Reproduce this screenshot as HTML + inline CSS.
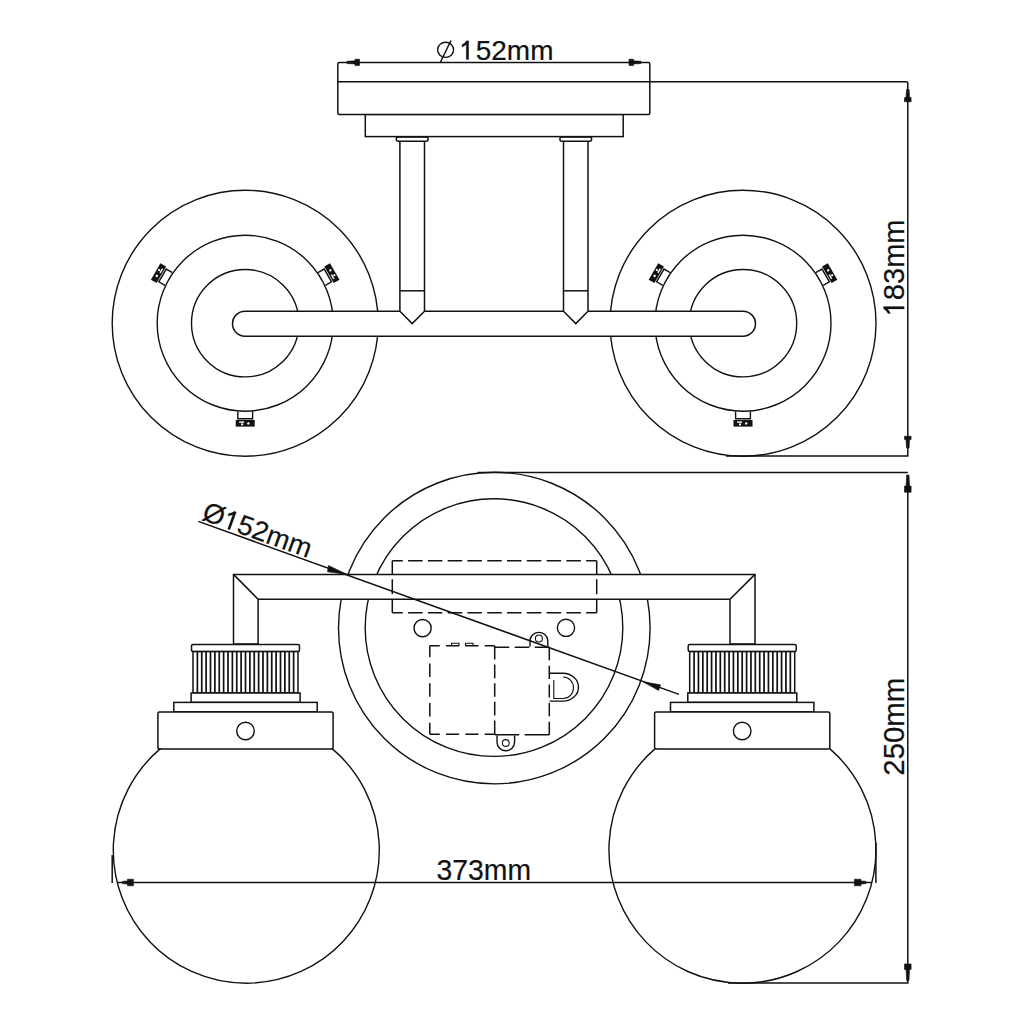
<!DOCTYPE html>
<html><head><meta charset="utf-8"><style>
html,body{margin:0;padding:0;background:#fff;}
svg{display:block;}
text{font-family:"Liberation Sans",sans-serif;fill:#111;stroke:#111;stroke-width:0.2;}
.s{fill:none;stroke:#111;stroke-width:1.5;}
.t{fill:none;stroke:#111;stroke-width:1.4;}
.t2{fill:none;stroke:#111;stroke-width:1.1;}
.w{fill:#fff;stroke:#111;stroke-width:1.5;}
.r{fill:none;stroke:#111;stroke-width:1.7;}
.g{fill:#111;stroke:#111;stroke-width:0.2;vector-effect:non-scaling-stroke;}
.ar{fill:#111;stroke:#111;stroke-width:0.6;stroke-linejoin:round;}
</style></head><body>
<svg width="1024" height="1024" viewBox="0 0 1024 1024">
<circle cx="245.2" cy="323.2" r="133" class="t"/>
<circle cx="245.2" cy="323.2" r="88" class="t"/>
<circle cx="245.2" cy="323.2" r="53.7" class="t"/>
<g transform="translate(245.2 323.2) rotate(0)"><path d="M-7.4 88.3V95.5H7.4V88.3" class="t"/><rect x="-9.5" y="96.8" width="19" height="6.6" fill="#111"/><rect x="-6" y="98.2" width="5" height="1.4" fill="#fff"/><circle cx="-3" cy="101.2" r="1.1" fill="#fff"/><circle cx="3.2" cy="100.2" r="1.2" fill="#fff"/></g>
<g transform="translate(245.2 323.2) rotate(120)"><path d="M-7.4 88.3V95.5H7.4V88.3" class="t"/><rect x="-9.5" y="96.8" width="19" height="6.6" fill="#111"/><rect x="-6" y="98.2" width="5" height="1.4" fill="#fff"/><circle cx="-3" cy="101.2" r="1.1" fill="#fff"/><circle cx="3.2" cy="100.2" r="1.2" fill="#fff"/></g>
<g transform="translate(245.2 323.2) rotate(240)"><path d="M-7.4 88.3V95.5H7.4V88.3" class="t"/><rect x="-9.5" y="96.8" width="19" height="6.6" fill="#111"/><rect x="-6" y="98.2" width="5" height="1.4" fill="#fff"/><circle cx="-3" cy="101.2" r="1.1" fill="#fff"/><circle cx="3.2" cy="100.2" r="1.2" fill="#fff"/></g>
<circle cx="743.0" cy="323.2" r="133" class="t"/>
<circle cx="743.0" cy="323.2" r="88" class="t"/>
<circle cx="743.0" cy="323.2" r="53.7" class="t"/>
<g transform="translate(743.0 323.2) rotate(0)"><path d="M-7.4 88.3V95.5H7.4V88.3" class="t"/><rect x="-9.5" y="96.8" width="19" height="6.6" fill="#111"/><rect x="-6" y="98.2" width="5" height="1.4" fill="#fff"/><circle cx="-3" cy="101.2" r="1.1" fill="#fff"/><circle cx="3.2" cy="100.2" r="1.2" fill="#fff"/></g>
<g transform="translate(743.0 323.2) rotate(120)"><path d="M-7.4 88.3V95.5H7.4V88.3" class="t"/><rect x="-9.5" y="96.8" width="19" height="6.6" fill="#111"/><rect x="-6" y="98.2" width="5" height="1.4" fill="#fff"/><circle cx="-3" cy="101.2" r="1.1" fill="#fff"/><circle cx="3.2" cy="100.2" r="1.2" fill="#fff"/></g>
<g transform="translate(743.0 323.2) rotate(240)"><path d="M-7.4 88.3V95.5H7.4V88.3" class="t"/><rect x="-9.5" y="96.8" width="19" height="6.6" fill="#111"/><rect x="-6" y="98.2" width="5" height="1.4" fill="#fff"/><circle cx="-3" cy="101.2" r="1.1" fill="#fff"/><circle cx="3.2" cy="100.2" r="1.2" fill="#fff"/></g>
<rect x="232.5" y="311.2" width="523" height="25" rx="12.5" class="w"/>
<path d="M399.9 141V311.2L412.2 323.6L424.5 311.2V141" class="w"/>
<path d="M399.9 290.8H424.5" class="s"/>
<rect x="396.29999999999995" y="137" width="31.800000000000022" height="4.3" rx="2" class="w"/>
<path d="M563.5 141V311.2L575.75 323.6L588.0 311.2V141" class="w"/>
<path d="M563.5 290.8H588.0" class="s"/>
<rect x="559.9" y="137" width="31.7" height="4.3" rx="2" class="w"/>
<rect x="365.3" y="114.4" width="257.9" height="22.2" class="w"/>
<rect x="337.8" y="62.4" width="312" height="52" rx="1.5" class="w"/>
<path d="M337.8 81.7H906.2A1.6 1.6 0 0 1 907.8 83.3V456H725.8" class="s"/>
<path d="M347.00 61.28L355.00 60.80L355.00 59.20L359.50 59.20L359.50 65.60L355.00 65.60L355.00 64.00L347.00 63.52Z" class="ar"/>
<path d="M641.00 63.52L633.50 64.00L633.50 65.60L629.00 65.60L629.00 59.20L633.50 59.20L633.50 60.80L641.00 61.28Z" class="ar"/>
<ellipse cx="445.6" cy="49.8" rx="8" ry="7.6" class="t"/>
<path d="M440.5 62L451 40.5" class="s"/>
<text x="460.2" y="59.8" font-size="27.5" textLength="93.3" lengthAdjust="spacingAndGlyphs"><tspan fill="transparent" stroke="none">1</tspan>52mm</text>
<path transform="translate(459.2 59.6) scale(27.9844 27.5)" d="M0.34 0V-0.688H0.262Q0.2 -0.59 0.096 -0.54V-0.457Q0.19 -0.49 0.2515 -0.553V0Z" class="g"/>
<path d="M909.06 89.40L909.60 97.60L911.10 97.60L911.10 101.80L904.50 101.80L904.50 97.60L906.00 97.60L906.54 89.40Z" class="ar"/>
<path d="M906.54 448.10L906.00 439.60L904.50 439.60L904.50 436.20L911.10 436.20L911.10 439.60L909.60 439.60L909.06 448.10Z" class="ar"/>
<g transform="translate(904.2 316.3) rotate(-90)"><text font-size="30" textLength="96.8" lengthAdjust="spacingAndGlyphs"><tspan fill="transparent" stroke="none">1</tspan>83mm</text><path transform="scale(29.0342 30)" d="M0.34 0V-0.688H0.262Q0.2 -0.59 0.096 -0.54V-0.457Q0.19 -0.49 0.2515 -0.553V0Z" class="g"/></g>
<circle cx="494.3" cy="628.1" r="155.8" class="t"/>
<circle cx="494" cy="627.6" r="128.8" class="t"/>
<path d="M477.5 472.6H907.8" class="s"/>
<path d="M907.8 475.1V983.1H728" class="s"/>
<path d="M908.99 475.10L909.50 486.00L911.10 486.00L911.10 492.20L904.50 492.20L904.50 486.00L906.10 486.00L906.61 475.10Z" class="ar"/>
<path d="M906.61 980.50L906.10 969.50L904.50 969.50L904.50 963.90L911.10 963.90L911.10 969.50L909.50 969.50L908.99 980.50Z" class="ar"/>
<path d="M233.5 644V574.4H755V644H730V599.2H258.1V644Z" class="w"/>
<path d="M233.5 574.4L258.1 599.2M755 574.4L730 599.2" class="s"/>
<path d="M392.30 560.70L402.80 560.70M408.10 560.70L422.59 560.70M427.89 560.70L442.38 560.70M447.68 560.70L462.17 560.70M467.47 560.70L481.96 560.70M487.26 560.70L501.74 560.70M507.04 560.70L521.53 560.70M526.83 560.70L541.32 560.70M546.62 560.70L561.11 560.70M566.41 560.70L580.90 560.70M586.20 560.70L596.70 560.70M596.70 560.70L596.70 574.00M596.70 579.30L596.70 594.20M596.70 599.50L596.70 612.80M596.70 612.80L586.20 612.80M580.90 612.80L566.41 612.80M561.11 612.80L546.62 612.80M541.32 612.80L526.83 612.80M521.53 612.80L507.04 612.80M501.74 612.80L487.26 612.80M481.96 612.80L467.47 612.80M462.17 612.80L447.68 612.80M442.38 612.80L427.89 612.80M422.59 612.80L408.10 612.80M402.80 612.80L392.30 612.80M392.30 612.80L392.30 599.50M392.30 594.20L392.30 579.30M392.30 574.00L392.30 560.70" class="s"/>
<circle cx="422.6" cy="628.1" r="8.6" class="t"/>
<circle cx="566" cy="627.8" r="8.6" class="t"/>
<path d="M494.70 645.80L484.70 645.80M478.50 645.80L465.35 645.80M459.15 645.80L446.00 645.80M439.80 645.80L429.80 645.80M429.80 645.80L429.80 657.30M429.80 663.50L429.80 677.03M429.80 683.23L429.80 696.77M429.80 702.97L429.80 716.50M429.80 722.70L429.80 734.20M429.80 734.20L439.80 734.20M446.00 734.20L459.15 734.20M465.35 734.20L478.50 734.20M484.70 734.20L494.70 734.20" class="s"/>
<path d="M451.5 645.8v-2.6h7.5v2.6M465.5 645.8v-2.6h7.5v2.6" class="t2"/>
<path d="M494.70 645.80L494.70 659.48M494.70 664.48L494.70 678.16M494.70 683.16L494.70 696.84M494.70 701.84L494.70 715.52M494.70 720.52L494.70 734.20" class="s"/>
<path d="M494.70 647.20L509.23 647.20M514.73 647.20L529.27 647.20M534.77 647.20L549.30 647.20M549.30 647.20L549.30 660.32M549.30 665.82L549.30 678.94M549.30 684.44L549.30 697.56M549.30 703.06L549.30 716.18M549.30 721.68L549.30 734.80M549.30 734.80L524.75 734.80M519.25 734.80L494.70 734.80" class="s"/>
<path d="M530 646.5V640A9 9 0 0 1 547.8 640V646.5" class="t"/>
<circle cx="538.9" cy="638.5" r="3.5" class="t2"/>
<path d="M497 735.4V742A8.8 8.8 0 0 0 514.6 742V735.4" class="t"/>
<circle cx="505.8" cy="743" r="3.4" class="t2"/>
<path d="M549.5 673.2H563A15.5 13.95 0 0 1 563 701.1H549.5" class="t"/>
<path d="M553.8 680V698.5H563A10.5 10.75 0 0 0 563 677" class="t2"/>
<rect x="191.5" y="644.4" width="108" height="7.2" rx="1.5" class="w"/>
<rect x="193.0" y="651.6" width="105" height="41.4" class="w"/>
<path d="M197.38 651.6V693M201.75 651.6V693M206.12 651.6V693M210.50 651.6V693M214.88 651.6V693M219.25 651.6V693M223.62 651.6V693M228.00 651.6V693M232.38 651.6V693M236.75 651.6V693M241.12 651.6V693M245.50 651.6V693M249.88 651.6V693M254.25 651.6V693M258.62 651.6V693M263.00 651.6V693M267.38 651.6V693M271.75 651.6V693M276.12 651.6V693M280.50 651.6V693M284.88 651.6V693M289.25 651.6V693M293.62 651.6V693" class="r"/>
<rect x="191.1" y="693" width="109" height="9.4" class="w"/>
<rect x="173.8" y="702.4" width="143.4" height="9.5" class="w"/>
<rect x="157.9" y="711.9" width="175.2" height="37" rx="1.5" class="w"/>
<circle cx="245.5" cy="731" r="8.8" class="t"/>
<path d="M157.90 748.9L160.12 748.9A133.0 133.0 0 1 0 332.48 748.9L333.10 748.9" class="t"/>
<rect x="688.2" y="644.4" width="108" height="7.2" rx="1.5" class="w"/>
<rect x="689.7" y="651.6" width="105" height="41.4" class="w"/>
<path d="M694.08 651.6V693M698.45 651.6V693M702.83 651.6V693M707.20 651.6V693M711.58 651.6V693M715.95 651.6V693M720.33 651.6V693M724.70 651.6V693M729.08 651.6V693M733.45 651.6V693M737.83 651.6V693M742.20 651.6V693M746.58 651.6V693M750.95 651.6V693M755.33 651.6V693M759.70 651.6V693M764.08 651.6V693M768.45 651.6V693M772.83 651.6V693M777.20 651.6V693M781.58 651.6V693M785.95 651.6V693M790.33 651.6V693" class="r"/>
<rect x="687.8000000000001" y="693" width="109" height="9.4" class="w"/>
<rect x="670.5" y="702.4" width="143.4" height="9.5" class="w"/>
<rect x="654.6" y="711.9" width="175.2" height="37" rx="1.5" class="w"/>
<circle cx="742.2" cy="731" r="8.8" class="t"/>
<path d="M654.60 748.9L654.92 748.9A133.5 133.5 0 1 0 829.98 748.9L829.80 748.9" class="t"/>
<path d="M117 882.5H871.8" class="s"/>
<path d="M112.2 855V882.9M875.9 843V882.9" class="s"/>
<path d="M122.50 881.38L127.50 880.90L127.50 879.20L133.40 879.20L133.40 885.80L127.50 885.80L127.50 884.10L122.50 883.62Z" class="ar"/>
<path d="M866.00 883.62L860.90 884.10L860.90 885.80L854.40 885.80L854.40 879.20L860.90 879.20L860.90 880.90L866.00 881.38Z" class="ar"/>
<text x="436.5" y="879.9" font-size="29.5" textLength="94.5" lengthAdjust="spacingAndGlyphs">373mm</text>
<text transform="translate(904.2 775.7) rotate(-90)" font-size="30" textLength="98.0" lengthAdjust="spacingAndGlyphs">250mm</text>
<path d="M198.3 521.4L679 694.4" class="s"/>
<path d="M347.3 574.5L328.5 565.5L327.5 571.8Z" class="ar"/>
<path d="M643 681.7L660.57 684.87L658.53 690.51Z" class="ar"/>
<g transform="translate(200.8 519.3) rotate(19.9)"><text font-size="27.5" textLength="114" lengthAdjust="spacingAndGlyphs">Ø<tspan fill="transparent" stroke="none">1</tspan>52mm</text><path transform="translate(21.564 0) scale(27.7237 27.5)" d="M0.34 0V-0.688H0.262Q0.2 -0.59 0.096 -0.54V-0.457Q0.19 -0.49 0.2515 -0.553V0Z" class="g"/></g>
</svg></body></html>
